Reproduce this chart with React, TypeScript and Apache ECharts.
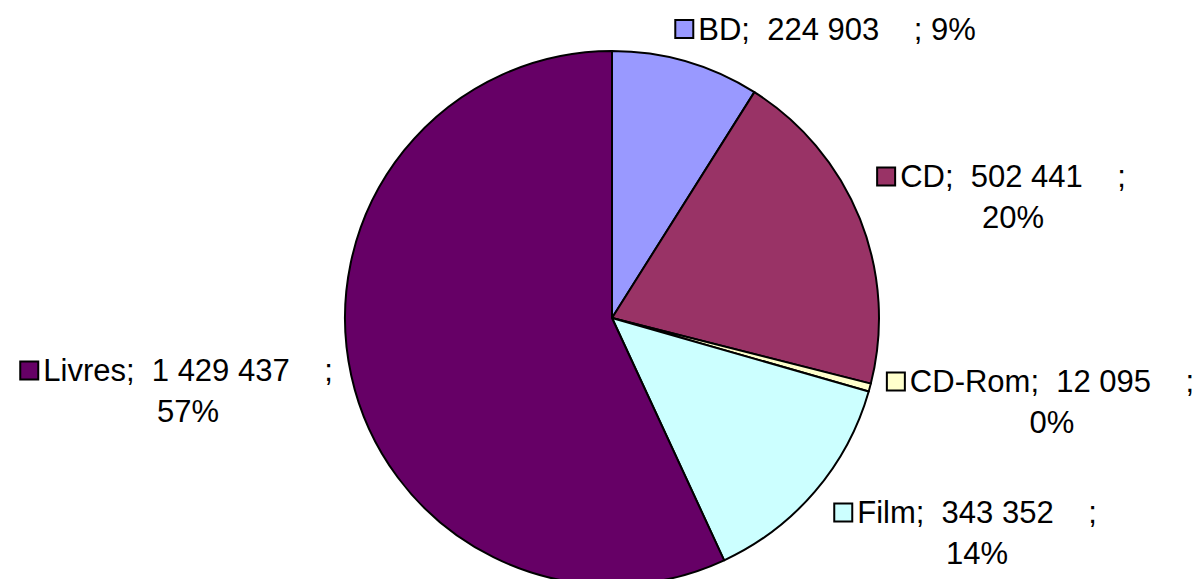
import React, { useEffect, useRef } from "react";
import * as echarts from "echarts";

const categories = ["BD", "CD", "CD-Rom", "Film", "Livres"];
const values = [224903, 502441, 12095, 343352, 1429437];
const colors = ["#9999FF", "#993366", "#FFFFCC", "#CCFFFF", "#660066"];
const percents = [9, 20, 0, 14, 57];
// label anchor positions (layout only)
const labelPos = [
  [826, 29],
  [1002, 197],
  [1041, 402],
  [966, 533],
  [177, 391],
];
const singleLine = [true, false, false, false, false];

function fmt(v: number): string {
  return String(v).replace(/\B(?=(\d{3})+(?!\d))/g, " ");
}

export default function App() {
  const ref = useRef<HTMLDivElement>(null);
  useEffect(() => {
    const chart = echarts.init(ref.current!, null, { renderer: "svg" });
    const data = categories.map((name, i) => ({
      name,
      value: values[i],
      itemStyle: { color: colors[i] },
      label: {
        formatter:
          `{sq|}{t|${name};  ${fmt(values[i])}    ;` +
          (singleLine[i] ? ` ${percents[i]}%}` : `}\n{p|${percents[i]}%}`),
        rich: {
          sq: {
            width: 16,
            height: 16,
            backgroundColor: colors[i],
            borderColor: "#000",
            borderWidth: 2,
          },
          t: {
            fontSize: 31,
            fontFamily: "Liberation Sans, Arial, sans-serif",
            color: "#000",
            lineHeight: 41,
            padding: [0, 0, 0, 6],
          },
          p: {
            fontSize: 31,
            fontFamily: "Liberation Sans, Arial, sans-serif",
            color: "#000",
            lineHeight: 41,
            padding: [0, 0, 0, 22],
          },
        },
      },
    }));
    chart.setOption({
      animation: false,
      backgroundColor: "#fff",
      series: [
        {
          type: "pie",
          center: [612, 318],
          radius: 267,
          startAngle: 90,
          clockwise: true,
          data,
          itemStyle: { borderColor: "#000", borderWidth: 2 },
          label: {
            show: true,
            position: "outside",
            align: "center",
            color: "#000",
            overflow: "none",
            width: 500,
          },
          labelLine: { show: false },
          emphasis: { disabled: true },
          labelLayout: (params: any) => {
            const p = labelPos[params.dataIndex];
            return { x: p[0], y: p[1], align: "center", verticalAlign: "middle", hideOverlap: false, moveOverlap: false };
          },
        },
      ],
    });
    return () => chart.dispose();
  }, []);
  return (
    <div
      ref={ref}
      style={{ position: "fixed", left: 0, top: 0, width: 1204, height: 579 }}
    />
  );
}
